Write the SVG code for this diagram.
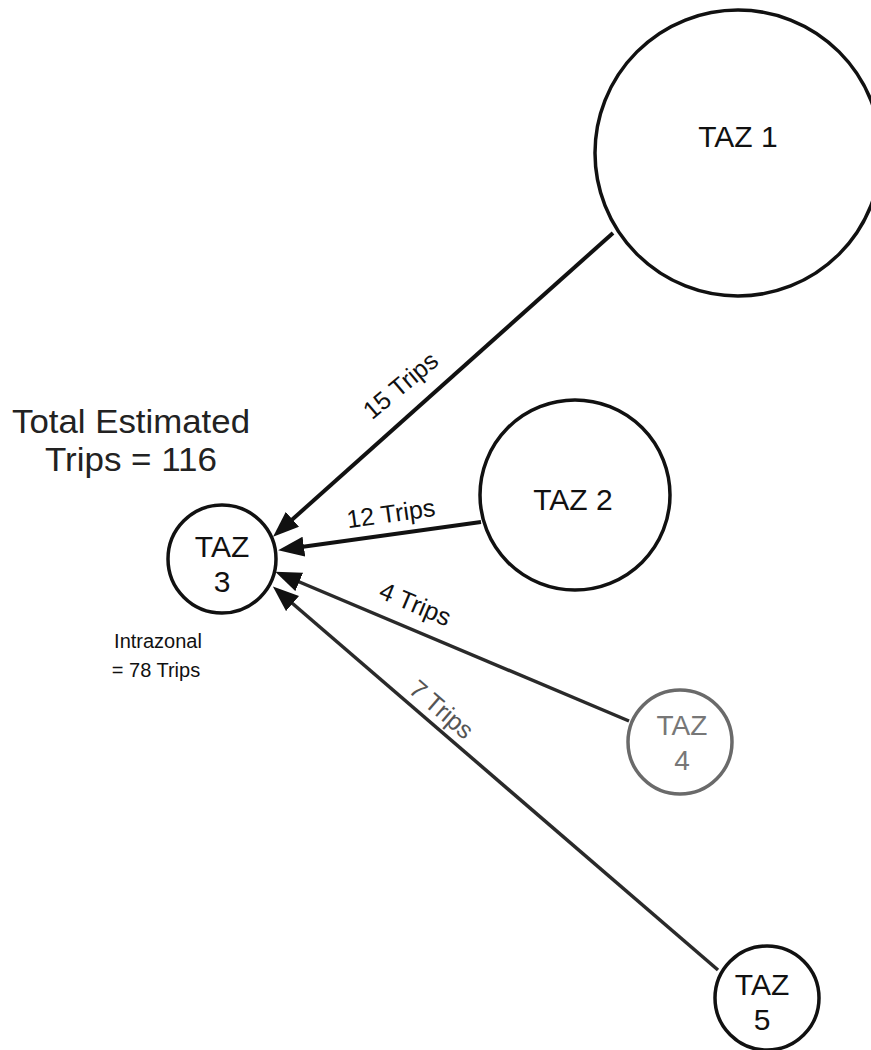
<svg xmlns="http://www.w3.org/2000/svg" width="871" height="1050" viewBox="0 0 871 1050">
  <defs>
    <!-- filled arrowhead; the tip sits 16px past the end of the line -->
    <marker id="head" viewBox="0 0 26 20" refX="10" refY="10" markerWidth="26" markerHeight="20" markerUnits="userSpaceOnUse" orient="auto">
      <path d="M0,0 L26,10 L0,20 z" fill="#111"/>
    </marker>
    <style>
      .zone { fill: #fff; stroke: #111; stroke-width: 3.5; }
      .zone.faint { stroke: #6a6a6a; }
      .lbl { font-family: "Liberation Sans", Arial, sans-serif; fill: #111; text-anchor: middle; }
      .tag { font-size: 25px; }
      .big { font-size: 30px; }
      .flow { stroke: #111; stroke-width: 4; fill: none; }
      .flow.thin { stroke: #2a2a2a; stroke-width: 3.5; }
    </style>
  </defs>
  <rect width="871" height="1050" fill="#fff"/>

  <!-- trip flows into zone 3 -->
  <g id="connectors">
    <line class="flow" x1="613" y1="233" x2="285" y2="526" marker-end="url(#head)"/>
    <line class="flow" x1="481" y1="522" x2="294" y2="548" marker-end="url(#head)"/>
    <line class="flow thin" x1="629" y1="721" x2="290" y2="578" marker-end="url(#head)"/>
    <line class="flow thin" x1="718" y1="970" x2="285" y2="597" marker-end="url(#head)"/>
    <text class="lbl tag" transform="translate(406,392) rotate(-40)">15 Trips</text>
    <text class="lbl tag" transform="translate(392,522) rotate(-8)">12 Trips</text>
    <text class="lbl tag" transform="translate(412,612) rotate(23)">4 Trips</text>
    <text class="lbl tag" style="fill:#555" transform="translate(436,716) rotate(40.7)">7 Trips</text>
  </g>

  <g id="taz1">
    <circle class="zone" cx="738" cy="153" r="143"/>
    <text class="lbl big" x="738" y="147">TAZ 1</text>
  </g>
  <g id="taz2">
    <circle class="zone" cx="575" cy="495" r="95"/>
    <text class="lbl big" x="573" y="510">TAZ 2</text>
  </g>
  <g id="taz3">
    <circle class="zone" cx="222" cy="559" r="54"/>
    <text class="lbl big" x="222" y="557">TAZ</text>
    <text class="lbl big" x="222" y="592">3</text>
  </g>
  <g id="taz4">
    <circle class="zone faint" cx="680" cy="742" r="52"/>
    <text class="lbl" x="682" y="735" font-size="28" style="fill:#777">TAZ</text>
    <text class="lbl" x="682" y="770" font-size="28" style="fill:#777">4</text>
  </g>
  <g id="taz5">
    <circle class="zone" cx="767" cy="998" r="52"/>
    <text class="lbl big" x="762" y="995">TAZ</text>
    <text class="lbl big" x="762" y="1030">5</text>
  </g>

  <g id="totals">
    <text class="lbl" x="131" y="433" font-size="33" textLength="238" lengthAdjust="spacingAndGlyphs" style="fill:#222">Total Estimated</text>
    <text class="lbl" x="131" y="471" font-size="33" textLength="172" lengthAdjust="spacingAndGlyphs" style="fill:#222">Trips = 116</text>
  </g>
  <g id="intrazonal">
    <text class="lbl" x="158" y="648" font-size="20">Intrazonal</text>
    <text class="lbl" x="156" y="677" font-size="20">= 78 Trips</text>
  </g>
</svg>
